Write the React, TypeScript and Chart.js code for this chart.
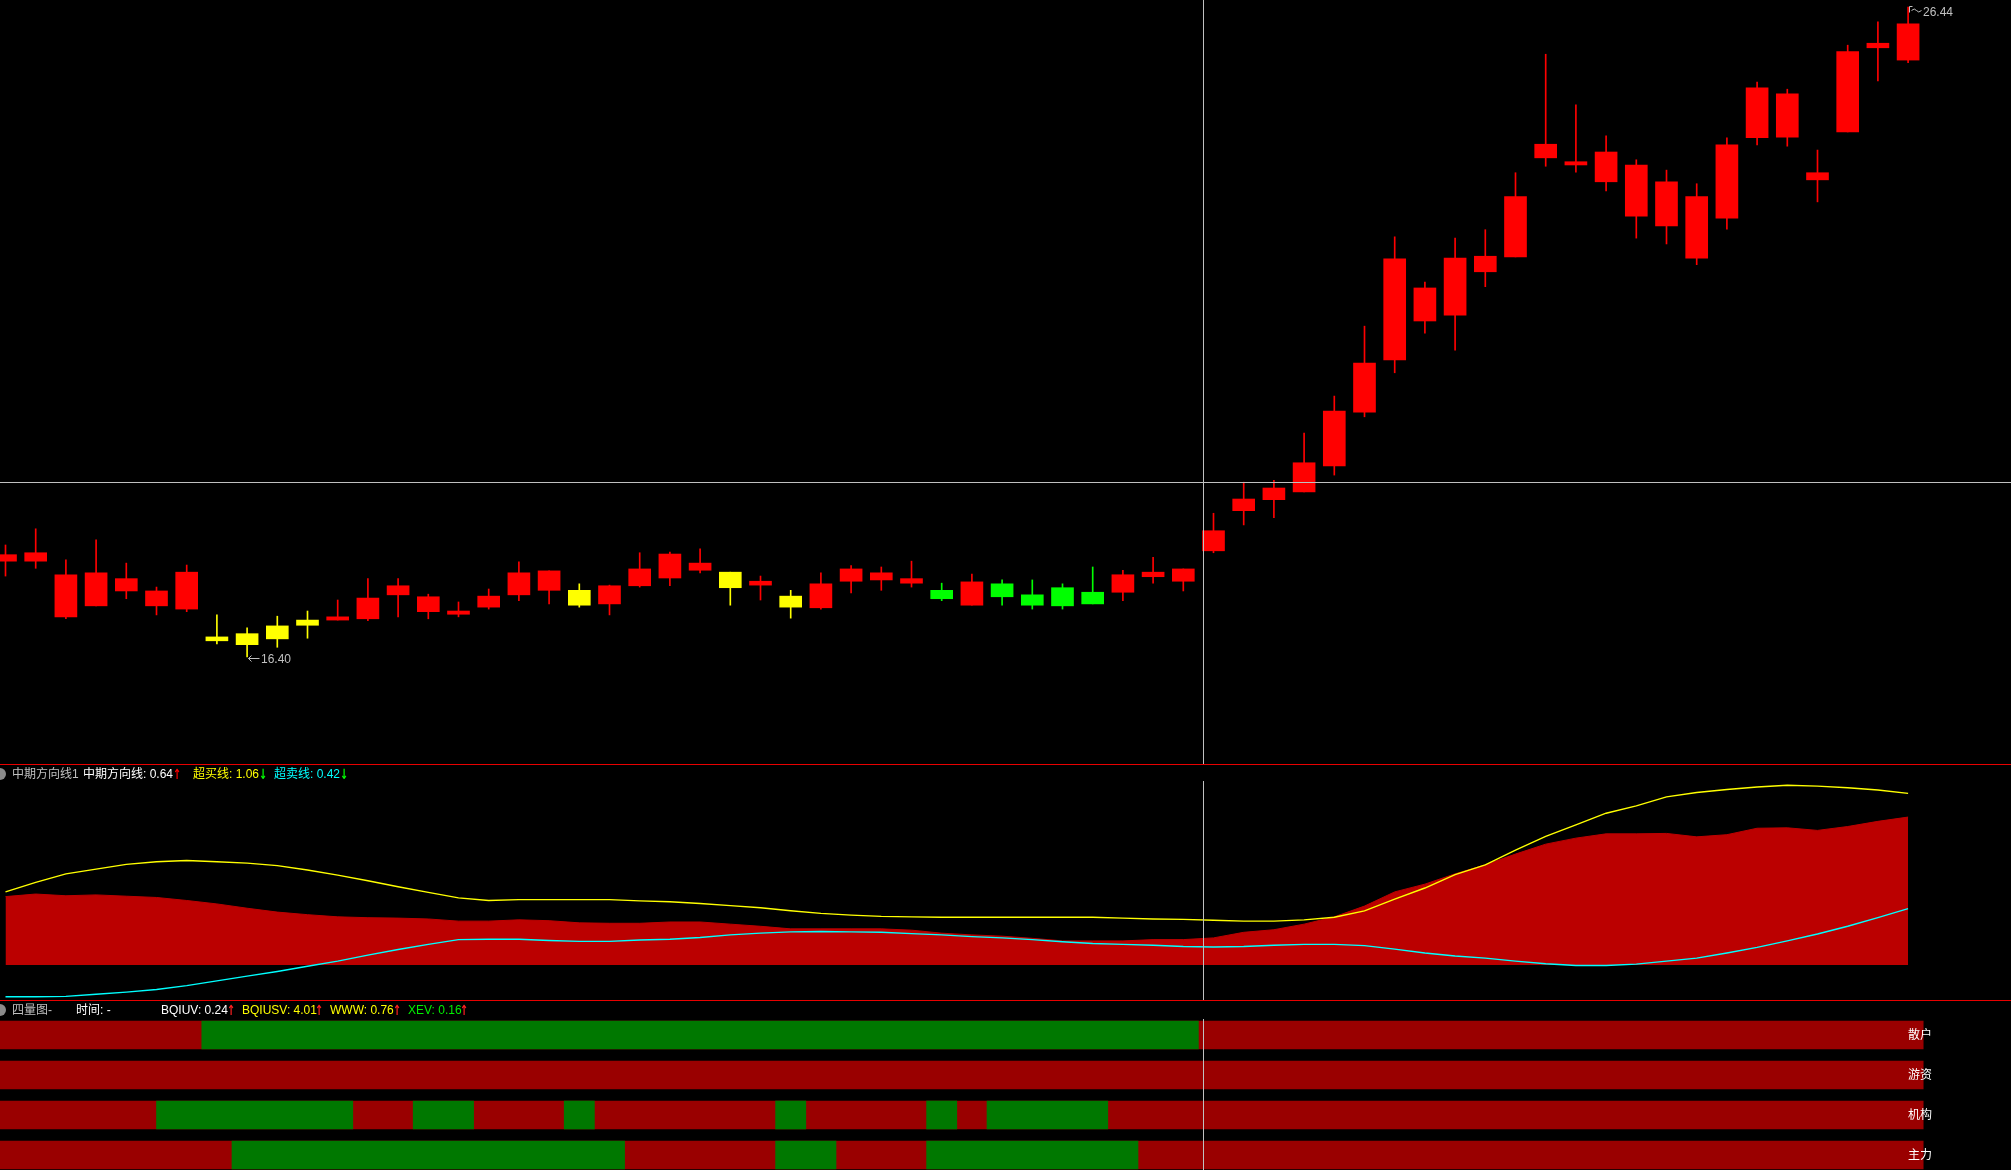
import React, { useEffect, useRef, useState } from 'react';
import { Chart, registerables } from 'chart.js';

Chart.register(...registerables);

// ---------------- data ----------------
// daily candles (64 bars)
const HIGH = [18.13, 18.38, 17.90, 18.21, 17.85, 17.48, 17.82, 17.05, 16.85, 17.03,
  17.11, 17.28, 17.61, 17.61, 17.37, 17.25, 17.45, 17.87, 17.73, 17.53,
  17.51, 18.01, 18.02, 18.07, 17.71, 17.65, 17.43, 17.70, 17.81, 17.79,
  17.88, 17.54, 17.68, 17.59, 17.59, 17.53, 17.79, 17.74, 17.94, 17.76,
  18.62, 19.10, 19.13, 19.86, 20.43, 21.51, 22.89, 22.19, 22.87, 23.00,
  23.88, 25.71, 24.93, 24.45, 24.08, 23.92, 23.71, 24.42, 25.28, 25.17,
  24.23, 25.85, 26.21, 26.44];
const LOW = [17.65, 17.77, 16.99, 17.19, 17.30, 17.05, 17.10, 16.60, 16.40, 16.55,
  16.69, 16.97, 16.96, 17.02, 16.99, 17.02, 17.14, 17.27, 17.22, 17.17,
  17.05, 17.48, 17.50, 17.70, 17.20, 17.28, 17.00, 17.14, 17.39, 17.43,
  17.48, 17.27, 17.20, 17.20, 17.14, 17.14, 17.22, 17.27, 17.54, 17.42,
  18.01, 18.44, 18.55, 18.95, 19.21, 20.11, 20.79, 21.40, 21.14, 22.12,
  22.58, 23.98, 23.89, 23.60, 22.87, 22.78, 22.46, 23.01, 24.31, 24.29,
  23.43, 24.51, 25.30, 25.58];
const OPEN = [17.88, 17.88, 17.02, 17.19, 17.42, 17.19, 17.14, 16.71, 16.76, 16.88,
  16.97, 16.97, 16.99, 17.36, 17.10, 17.06, 17.17, 17.36, 17.43, 17.43,
  17.22, 17.50, 17.62, 17.74, 17.71, 17.51, 17.34, 17.16, 17.57, 17.59,
  17.54, 17.43, 17.20, 17.53, 17.36, 17.47, 17.40, 17.40, 17.64, 17.57,
  18.04, 18.66, 18.83, 18.95, 19.35, 20.18, 20.99, 21.59, 21.68, 22.35,
  22.58, 24.11, 24.00, 23.74, 23.21, 23.06, 22.56, 23.18, 24.42, 24.43,
  23.77, 24.51, 25.81, 25.62];
const CLOSE = [17.98, 18.01, 17.67, 17.70, 17.61, 17.42, 17.71, 16.65, 16.59, 16.68,
  16.89, 17.02, 17.31, 17.50, 17.33, 17.11, 17.34, 17.70, 17.73, 17.20,
  17.50, 17.76, 17.99, 17.85, 17.47, 17.57, 17.17, 17.53, 17.76, 17.70,
  17.61, 17.30, 17.56, 17.33, 17.20, 17.19, 17.22, 17.67, 17.71, 17.76,
  18.35, 18.84, 19.01, 19.40, 20.20, 20.94, 22.55, 22.10, 22.56, 22.59,
  23.51, 24.32, 24.05, 24.20, 24.00, 23.74, 23.51, 24.31, 25.19, 25.10,
  23.88, 25.75, 25.88, 26.18];
// candle colour state: R = red, Y = yellow, G = green
const CANDLE_STATE = [
  'R', 'R', 'R', 'R', 'R', 'R', 'R', 'Y', 'Y', 'Y',
  'Y', 'R', 'R', 'R', 'R', 'R', 'R', 'R', 'R', 'Y',
  'R', 'R', 'R', 'R', 'Y', 'R', 'Y', 'R', 'R', 'R',
  'R', 'G', 'R', 'G', 'G', 'G', 'G', 'R', 'R', 'R',
  'R', 'R', 'R', 'R', 'R', 'R', 'R', 'R', 'R', 'R',
  'R', 'R', 'R', 'R', 'R', 'R', 'R', 'R', 'R', 'R',
  'R', 'R', 'R', 'R'];

// crosshair position (bar index, price)
const CROSSHAIR_INDEX = 39.65;
const CROSSHAIR_PRICE = 19.11;

// 中期方向线 indicator
const MID_LINE = [1.59, 1.65, 1.61, 1.63, 1.60, 1.57, 1.50, 1.42, 1.32, 1.23,
  1.17, 1.12, 1.10, 1.09, 1.07, 1.02, 1.02, 1.05, 1.03, 0.98,
  0.97, 0.97, 1.00, 1.00, 0.95, 0.90, 0.84, 0.84, 0.84, 0.84,
  0.81, 0.74, 0.70, 0.67, 0.62, 0.56, 0.56, 0.56, 0.59, 0.59,
  0.63, 0.76, 0.82, 0.95, 1.12, 1.37, 1.70, 1.88, 2.12, 2.33,
  2.58, 2.81, 2.95, 3.05, 3.05, 3.06, 2.98, 3.03, 3.18, 3.19,
  3.13, 3.22, 3.34, 3.44];
const OVERBOUGHT = [1.70, 1.92, 2.12, 2.23, 2.34, 2.40, 2.43, 2.40, 2.37, 2.31,
  2.21, 2.09, 1.96, 1.82, 1.69, 1.56, 1.50, 1.52, 1.52, 1.52,
  1.52, 1.49, 1.47, 1.43, 1.38, 1.33, 1.26, 1.20, 1.16, 1.13,
  1.12, 1.11, 1.11, 1.11, 1.11, 1.11, 1.11, 1.09, 1.07, 1.06,
  1.04, 1.02, 1.02, 1.05, 1.11, 1.26, 1.53, 1.79, 2.10, 2.33,
  2.67, 2.99, 3.26, 3.53, 3.70, 3.91, 4.01, 4.08, 4.14, 4.18,
  4.16, 4.12, 4.07, 3.99];
const OVERSOLD = [-0.74, -0.74, -0.73, -0.68, -0.63, -0.57, -0.48, -0.37, -0.26, -0.15,
  -0.03, 0.09, 0.23, 0.36, 0.48, 0.59, 0.60, 0.60, 0.57, 0.55,
  0.55, 0.58, 0.60, 0.64, 0.70, 0.74, 0.77, 0.78, 0.77, 0.76,
  0.73, 0.70, 0.66, 0.63, 0.59, 0.54, 0.50, 0.48, 0.46, 0.43,
  0.42, 0.43, 0.46, 0.48, 0.48, 0.45, 0.37, 0.28, 0.21, 0.16,
  0.09, 0.03, -0.01, -0.01, 0.02, 0.09, 0.16, 0.28, 0.41, 0.56,
  0.72, 0.90, 1.10, 1.31];
const IND_HEADER_VALUES = ['0.64', '1.06', '0.42'];

// 四量图 rows (green spans in bar-index units, rest red)
const ROW_LABELS = ['散户', '游资', '机构', '主力'];
const RETAIL_GREEN = [[6.5, 39.5]];
const HOT_MONEY_GREEN: number[][] = [];
const INSTITUTION_GREEN = [[5.0, 11.5], [13.5, 15.5], [18.5, 19.5], [25.5, 26.5], [30.5, 31.5], [32.5, 36.5]];
const MAIN_FORCE_GREEN = [[7.5, 20.5], [25.5, 27.5], [30.5, 37.5]];
const QUAD_HEADER_VALUES = ['0.24', '4.01', '0.76', '0.16'];

// ---------------- layout ----------------
const W = 2011;
const MAIN_H = 764;
const IND_H = 236;
const BOT_H = 170;
const STEP_PX = 30.2;
const FIRST_PX = 5.5;
const X_MIN = -FIRST_PX / STEP_PX;
const X_MAX = X_MIN + W / STEP_PX;
const PRICE_MIN = 14.747;
const PRICE_MAX = 26.548;
const IND_MIN = -0.814;
const IND_MAX = 4.674;
const ROW_MIN = -0.875;
const ROW_MAX = 3.375;

const CROSS_COLOR = '#c0c0c0';
const SEP_COLOR = '#e80000';
const STATE_COLORS: Record<string, string> = { R: '#ff0000', Y: '#ffff00', G: '#00ff00' };
const FONT = '"Liberation Sans", "Noto Sans CJK SC", sans-serif';
const ARROW_FONT = '"DejaVu Sans", "Liberation Sans", sans-serif';

const baseOptions = (extra: any) => ({
  responsive: false,
  animation: false,
  devicePixelRatio: 1,
  events: [],
  layout: { padding: 0 },
  plugins: { legend: { display: false }, tooltip: { enabled: false }, title: { display: false } },
  ...extra,
});

export default function App() {
  const mainRef = useRef<HTMLCanvasElement>(null);
  const indRef = useRef<HTMLCanvasElement>(null);
  const botRef = useRef<HTMLCanvasElement>(null);
  const [marks, setMarks] = useState<any>(null);

  useEffect(() => {
    document.body.style.margin = '0';
    document.body.style.background = '#000';
    document.body.style.overflow = 'hidden';

    const colors = CANDLE_STATE.map((s) => STATE_COLORS[s]);
    let lowIdx = 0;
    let highIdx = 0;
    LOW.forEach((v, i) => { if (v < LOW[lowIdx]) lowIdx = i; });
    HIGH.forEach((v, i) => { if (v > HIGH[highIdx]) highIdx = i; });

    const mainOverlay = {
      id: 'mainOverlay',
      afterDatasetsDraw(chart: any) {
        const { ctx } = chart;
        const xs = chart.scales.x;
        const ys = chart.scales.y;
        ctx.save();
        ctx.fillStyle = CROSS_COLOR;
        const cx = Math.round(xs.getPixelForValue(CROSSHAIR_INDEX));
        ctx.fillRect(cx, 0, 1, chart.height);
        const cy = Math.round(ys.getPixelForValue(CROSSHAIR_PRICE));
        ctx.fillRect(0, cy, chart.width, 1);
        // low marker arrow
        ctx.strokeStyle = CROSS_COLOR;
        ctx.lineWidth = 1;
        const lx = Math.round(xs.getPixelForValue(lowIdx)) + 0.5;
        const ly = Math.round(ys.getPixelForValue(LOW[lowIdx])) + 1.5;
        ctx.beginPath();
        ctx.moveTo(lx + 1, ly);
        ctx.lineTo(lx + 12, ly);
        ctx.moveTo(lx + 1, ly);
        ctx.lineTo(lx + 4, ly - 3);
        ctx.moveTo(lx + 1, ly);
        ctx.lineTo(lx + 4, ly + 3);
        ctx.stroke();
        // high marker arrow
        const hx = Math.round(xs.getPixelForValue(highIdx)) + 0.5;
        const hy = Math.round(ys.getPixelForValue(HIGH[highIdx])) + 0.5;
        ctx.beginPath();
        ctx.moveTo(hx + 1, hy + 5);
        ctx.lineTo(hx + 1, hy - 1);
        ctx.lineTo(hx + 4, hy - 1);
        ctx.moveTo(hx + 3, hy + 3);
        ctx.quadraticCurveTo(hx + 6, hy, hx + 8, hy + 3);
        ctx.quadraticCurveTo(hx + 10, hy + 6, hx + 13, hy + 3);
        ctx.stroke();
        ctx.restore();
      },
    };

    const main = new Chart(mainRef.current as HTMLCanvasElement, {
      type: 'bar',
      data: {
        datasets: [
          {
            label: 'body',
            data: OPEN.map((o, i) => ({ x: i, y: [Math.min(o, CLOSE[i]), Math.max(o, CLOSE[i])] })) as any,
            backgroundColor: colors,
            borderWidth: 0,
            barThickness: 22,
            minBarLength: 2,
            grouped: false,
            order: 0,
          },
          {
            label: 'wick',
            data: HIGH.map((h, i) => ({ x: i, y: [LOW[i], h] })) as any,
            backgroundColor: colors,
            borderWidth: 0,
            barThickness: 1,
            grouped: false,
            order: 1,
          },
        ],
      },
      options: baseOptions({
        scales: {
          x: { type: 'linear', min: X_MIN, max: X_MAX, display: false, offset: false },
          y: { type: 'linear', min: PRICE_MIN, max: PRICE_MAX, display: false },
        },
      }),
      plugins: [mainOverlay],
    } as any);

    const paneOverlay = (id: string, crossTop: number) => ({
      id,
      afterDatasetsDraw(chart: any) {
        const { ctx } = chart;
        ctx.save();
        ctx.fillStyle = SEP_COLOR;
        ctx.fillRect(0, 0, chart.width, 1);
        ctx.fillStyle = CROSS_COLOR;
        const cx = Math.round(chart.scales.x.getPixelForValue(CROSSHAIR_INDEX));
        ctx.fillRect(cx, crossTop, 1, chart.height - crossTop);
        ctx.restore();
      },
    });

    const toPts = (arr: number[]) => arr.map((v, i) => ({ x: i, y: v }));
    const ind = new Chart(indRef.current as HTMLCanvasElement, {
      type: 'line',
      data: {
        datasets: [
          { label: '超买线', data: toPts(OVERBOUGHT), borderColor: '#ffff00', borderWidth: 1.4, pointRadius: 0, fill: false, order: 0 },
          { label: '超卖线', data: toPts(OVERSOLD), borderColor: '#00ffff', borderWidth: 1.4, pointRadius: 0, fill: false, order: 1 },
          { label: '中期方向线', data: toPts(MID_LINE), borderColor: '#bb0000', backgroundColor: '#bb0000', borderWidth: 1, pointRadius: 0, fill: 'origin', order: 2 },
        ],
      },
      options: baseOptions({
        scales: {
          x: { type: 'linear', min: X_MIN, max: X_MAX, display: false, offset: false },
          y: { type: 'linear', min: IND_MIN, max: IND_MAX, display: false },
        },
      }),
      plugins: [paneOverlay('indOverlay', 17)],
    } as any);

    const rows = [RETAIL_GREEN, HOT_MONEY_GREEN, INSTITUTION_GREEN, MAIN_FORCE_GREEN];
    const greenData: any[] = [];
    rows.forEach((segs, r) => segs.forEach(([s, e]) => greenData.push({ x: [s, e], y: r })));
    const redData = ROW_LABELS.map((_, r) => ({ x: [-0.5, HIGH.length - 0.5], y: r }));

    const bot = new Chart(botRef.current as HTMLCanvasElement, {
      type: 'bar',
      data: {
        datasets: [
          { label: 'green', data: greenData, backgroundColor: '#007800', borderWidth: 0, barThickness: 28, grouped: false, order: 0 },
          { label: 'red', data: redData, backgroundColor: '#9a0000', borderWidth: 0, barThickness: 28, grouped: false, order: 1 },
        ],
      },
      options: baseOptions({
        indexAxis: 'y',
        scales: {
          x: { type: 'linear', min: X_MIN, max: X_MAX, display: false, offset: false },
          y: { type: 'linear', min: ROW_MIN, max: ROW_MAX, reverse: true, display: false, offset: false },
        },
      }),
      plugins: [paneOverlay('botOverlay', 19)],
    } as any);

    const xs: any = main.scales.x;
    const ys: any = main.scales.y;
    const bys: any = bot.scales.y;
    setMarks({
      lx: xs.getPixelForValue(lowIdx),
      ly: ys.getPixelForValue(LOW[lowIdx]),
      lowText: LOW[lowIdx].toFixed(2),
      hx: xs.getPixelForValue(highIdx),
      hy: ys.getPixelForValue(HIGH[highIdx]),
      highText: HIGH[highIdx].toFixed(2),
      labelX: xs.getPixelForValue(HIGH.length - 1),
      rowY: ROW_LABELS.map((_, r) => bys.getPixelForValue(r)),
    });

    return () => {
      main.destroy();
      ind.destroy();
      bot.destroy();
    };
  }, []);

  const txt = (left: number, top: number, color: string, content: string, key: string) => (
    <span key={key} style={{ position: 'absolute', left, top, color, whiteSpace: 'pre', fontSize: 12, lineHeight: '14px', fontFamily: FONT }}>
      {content}
    </span>
  );
  const arrow = (left: number, top: number, color: string, content: string, key: string) => (
    <span key={key} style={{ position: 'absolute', left, top: top - 1, color, whiteSpace: 'pre', fontSize: 14, lineHeight: '16px', fontWeight: 'bold', fontFamily: ARROW_FONT, transform: 'scaleX(0.7)', transformOrigin: 'left center' }}>
      {content}
    </span>
  );
  const icon = (top: number) => (
    <div style={{ position: 'absolute', left: -6, top, width: 12, height: 12, borderRadius: 6, background: '#8a8a8a' }} />
  );

  return (
    <div style={{ position: 'relative', width: W, height: MAIN_H + IND_H + BOT_H, background: '#000', overflow: 'hidden' }}>
      <canvas ref={mainRef} width={W} height={MAIN_H} style={{ position: 'absolute', left: 0, top: 0, width: W, height: MAIN_H }} />
      <canvas ref={indRef} width={W} height={IND_H} style={{ position: 'absolute', left: 0, top: MAIN_H, width: W, height: IND_H }} />
      <canvas ref={botRef} width={W} height={BOT_H} style={{ position: 'absolute', left: 0, top: MAIN_H + IND_H, width: W, height: BOT_H }} />

      {icon(768)}
      {txt(12, 767, '#c0c0c0', '中期方向线1', 'i0')}
      {txt(83, 767, '#ffffff', '中期方向线: ' + IND_HEADER_VALUES[0], 'i1')}
      {arrow(173, 767, '#ff0000', '↑', 'i1a')}
      {txt(193, 767, '#ffff00', '超买线: ' + IND_HEADER_VALUES[1], 'i2')}
      {arrow(259, 767, '#00ff00', '↓', 'i2a')}
      {txt(274, 767, '#00ffff', '超卖线: ' + IND_HEADER_VALUES[2], 'i3')}
      {arrow(340, 767, '#00ff00', '↓', 'i3a')}

      {icon(1004)}
      {txt(12, 1003, '#c0c0c0', '四量图-', 'q0')}
      {txt(76, 1003, '#ffffff', '时间: -', 'q1')}
      {txt(161, 1003, '#ffffff', 'BQIUV: ' + QUAD_HEADER_VALUES[0], 'q2')}
      {arrow(227, 1003, '#ff2020', '↑', 'q2a')}
      {txt(242, 1003, '#ffff00', 'BQIUSV: ' + QUAD_HEADER_VALUES[1], 'q3')}
      {arrow(315, 1003, '#ff2020', '↑', 'q3a')}
      {txt(330, 1003, '#ffff00', 'WWW: ' + QUAD_HEADER_VALUES[2], 'q4')}
      {arrow(393, 1003, '#ff2020', '↑', 'q4a')}
      {txt(408, 1003, '#00ee00', 'XEV: ' + QUAD_HEADER_VALUES[3], 'q5')}
      {arrow(460, 1003, '#ff2020', '↑', 'q5a')}

      {marks && (
        <>
          {txt(Math.round(marks.lx) + 14, Math.round(marks.ly) - 5, '#c0c0c0', marks.lowText, 'lowLbl')}
          {txt(Math.round(marks.hx) + 15, Math.round(marks.hy) - 2, '#c0c0c0', marks.highText, 'highLbl')}
          {ROW_LABELS.map((lbl, r) =>
            txt(Math.round(marks.labelX), MAIN_H + IND_H + Math.round(marks.rowY[r]) - 7, '#ffffff', lbl, 'row' + r)
          )}
        </>
      )}
    </div>
  );
}
